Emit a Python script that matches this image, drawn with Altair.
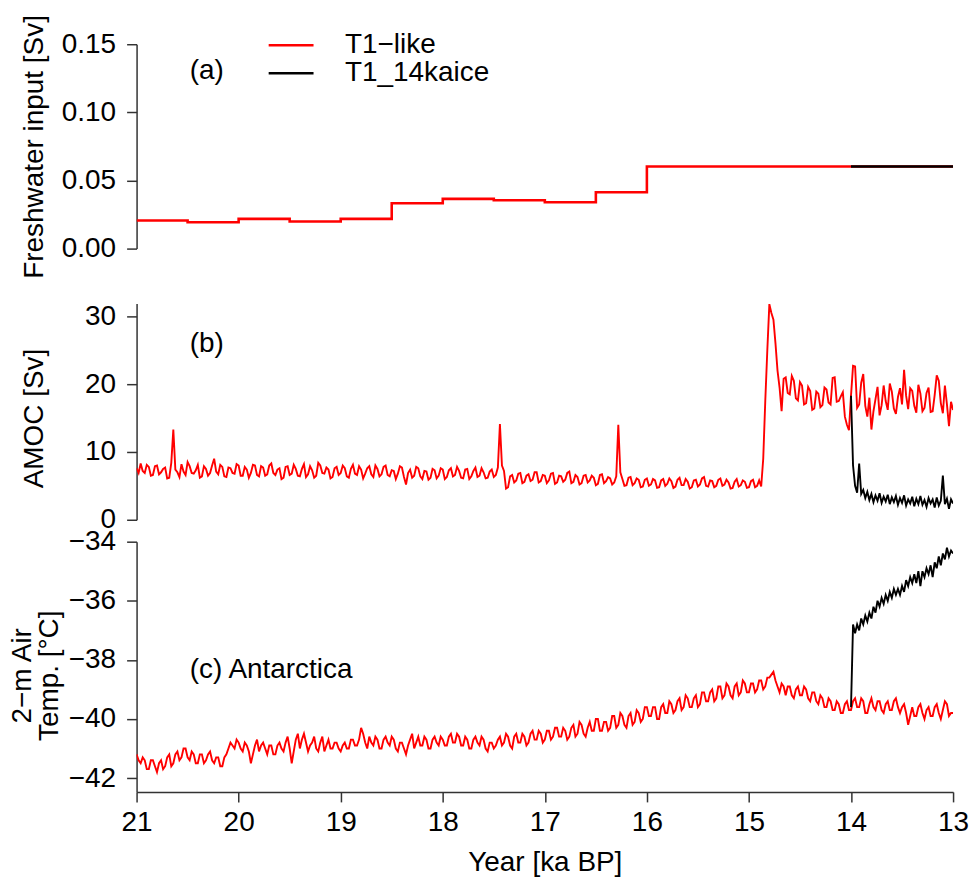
import altair as alt
import pandas as pd

S1 = "T1\u2212like"
S2 = "T1_14kaice"
RED = "#ff0000"
BLACK = "#000000"
FONT = "Liberation Sans"
W = 819

# ---------------- (a) freshwater input [Sv], step values (value holds from the year toward younger ages)
years_fw = [21.0, 20.5, 20.0, 19.5, 19.0, 18.5, 18.0, 17.5, 17.0, 16.5, 16.0, 13.0]
fw_t1 = [0.0206, 0.0193, 0.0218, 0.0199, 0.0218, 0.0333, 0.0365, 0.0355, 0.0340, 0.0414, 0.0603, 0.0603]
years_fw_ice = [14.0, 13.0]
fw_ice = [0.0603, 0.0603]

# ---------------- sampling grids (ka BP)
years_main = [round(21 - 0.02 * i, 2) for i in range(401)]
years_ice = [round(14 - 0.02 * i, 2) for i in range(51)]

# ---------------- (b) AMOC [Sv]
amoc_t1 = [
    7.6, 6.9, 8.3, 7.2, 6.9, 8.1, 7.8, 6.5, 6.6, 7.9,
    8.0, 6.7, 7.0, 7.5, 7.7, 6.1, 6.2, 8.4, 13.3, 7.4,
    7.0, 6.3, 8.2, 7.1, 6.6, 8.5, 7.9, 6.9, 6.8, 7.3,
    8.1, 6.2, 6.4, 7.9, 7.5, 6.5, 6.9, 8.0, 9.0, 7.1,
    6.7, 8.1, 7.8, 6.4, 6.3, 7.7, 7.6, 6.9, 6.8, 8.2,
    8.0, 6.5, 6.5, 7.8, 7.4, 6.2, 6.9, 8.1, 8.0, 6.6,
    6.4, 7.9, 7.7, 6.5, 6.7, 8.0, 8.3, 6.9, 6.6, 7.4,
    7.6, 6.0, 6.2, 7.8, 7.9, 6.6, 6.8, 8.1, 7.5, 6.5,
    6.4, 7.5, 8.2, 6.3, 6.7, 7.9, 7.3, 6.2, 6.5, 8.4,
    8.0, 6.9, 6.8, 7.7, 7.4, 6.1, 6.3, 7.6, 7.8, 6.6,
    6.9, 8.0, 7.6, 6.4, 6.2, 7.5, 8.1, 6.8, 6.6, 7.9,
    7.4, 6.1, 6.8, 7.6, 7.9, 6.7, 6.3, 8.0, 7.5, 6.4,
    6.7, 7.8, 8.0, 6.6, 6.4, 7.3, 7.2, 6.0, 6.8, 7.9,
    7.7, 6.3, 5.2, 6.9, 7.4, 6.2, 6.5, 7.8, 7.6, 6.4,
    6.0, 7.2, 7.1, 5.9, 6.2, 7.5, 7.3, 6.1, 6.5, 7.6,
    7.4, 6.0, 6.3, 7.3, 7.6, 6.4, 6.6, 7.8, 7.2, 6.2,
    6.1, 7.4, 7.5, 6.0, 6.4, 7.2, 7.7, 6.3, 6.5, 7.6,
    7.0, 6.1, 6.2, 7.1, 7.4, 6.3, 6.6, 7.7, 14.1, 8.0,
    7.2, 4.6, 4.8, 6.4, 6.6, 5.5, 5.8, 6.8, 6.9, 5.4,
    5.6, 6.5, 6.7, 5.7, 5.9, 7.0, 7.0, 5.5, 5.7, 6.6,
    6.5, 5.4, 5.8, 6.8, 6.9, 5.3, 5.5, 6.5, 6.4, 5.6,
    5.9, 6.9, 7.1, 5.4, 5.6, 6.6, 6.3, 5.2, 5.4, 6.5,
    6.6, 5.5, 5.8, 6.5, 6.2, 5.1, 5.3, 6.6, 6.7, 5.4,
    5.7, 6.3, 6.1, 5.2, 5.5, 6.4, 14.0, 7.0, 6.0, 5.0,
    5.1, 6.2, 6.3, 5.1, 5.4, 6.1, 5.9, 4.8, 4.9, 5.9,
    6.1, 5.0, 5.2, 6.0, 5.8, 4.7, 4.8, 5.8, 6.0, 5.0,
    5.3, 6.1, 5.7, 4.7, 4.9, 5.9, 6.2, 5.1, 5.1, 6.0,
    5.6, 4.6, 4.8, 5.8, 5.9, 4.9, 5.2, 6.1, 6.3, 5.0,
    4.9, 5.8, 5.7, 4.8, 5.0, 5.9, 6.1, 5.0, 5.2, 5.9,
    5.5, 4.6, 4.7, 5.6, 6.0, 4.9, 5.1, 5.8, 5.6, 4.7,
    4.8, 5.7, 5.9, 4.8, 5.0, 5.8, 4.9, 9.0, 17.5, 25.0,
    31.8, 30.5, 29.5, 26.0, 22.0, 19.5, 16.0, 20.8, 21.0, 18.7,
    18.5, 21.2, 20.5, 17.9, 17.6, 20.3, 19.8, 17.0, 17.2, 19.6,
    19.0, 16.2, 16.4, 18.9, 18.6, 16.6, 16.9, 19.5, 19.2, 17.3,
    17.0, 20.9, 21.0, 17.4, 17.5, 18.2, 18.8, 15.2, 14.0, 13.2,
    18.3, 22.7, 22.6, 16.5, 17.0, 20.2, 21.5, 16.8, 15.2, 18.0,
    13.3, 16.0, 17.8, 19.6, 15.4, 16.9, 19.8, 17.5, 16.2, 20.1,
    18.9, 16.4, 15.6, 18.1, 19.4, 17.0, 22.1, 18.3, 16.3, 19.4,
    19.0, 16.8, 15.8, 19.9, 18.6, 16.0, 16.5, 18.7, 19.5, 15.9,
    16.0, 18.4, 21.3, 20.5, 17.2, 15.7, 19.8, 17.0, 13.8, 17.4,
    16.2,
]
amoc_ice = [
    18.3, 8.0, 5.0, 4.0, 8.3, 3.8, 4.4, 3.2, 4.1, 2.9,
    3.8, 2.6, 3.6, 2.8, 3.9, 2.5, 3.4, 2.7, 3.7, 2.3,
    3.3, 2.6, 3.5, 2.2, 3.2, 2.5, 3.6, 2.1, 3.0, 2.4,
    3.4, 2.0, 3.1, 2.3, 3.5, 2.2, 2.9, 1.9, 3.2, 2.4,
    3.0, 1.8, 3.3, 2.1, 2.8, 6.5, 2.3, 3.1, 1.6, 3.0,
    2.4,
]

# ---------------- (c) Antarctic 2-m air temperature [degC]
temp_t1 = [
    -41.2, -41.4, -41.5, -41.3, -41.4, -41.7, -41.7, -41.4, -41.4, -41.6,
    -41.8, -41.5, -41.4, -41.7, -41.6, -41.3, -41.2, -41.6, -41.5, -41.2,
    -41.1, -41.4, -41.3, -41.0, -41.0, -41.3, -41.4, -41.1, -41.2, -41.5,
    -41.5, -41.2, -41.2, -41.5, -41.4, -41.2, -41.1, -41.4, -41.5, -41.3,
    -41.3, -41.6, -41.6, -41.3, -41.2, -41.0, -40.8, -40.9, -41.0, -40.7,
    -40.8, -41.0, -41.1, -40.8, -40.9, -41.1, -41.5, -41.2, -40.9, -40.7,
    -41.1, -40.9, -40.8, -41.0, -41.2, -40.9, -40.9, -41.2, -41.2, -40.9,
    -40.8, -41.0, -41.1, -40.8, -40.6, -41.0, -41.5, -41.1, -40.7, -40.5,
    -41.0, -40.7, -40.5, -40.8, -41.1, -40.9, -40.8, -40.6, -41.0, -41.1,
    -40.8, -40.6, -41.1, -40.9, -40.7, -41.0, -41.0, -40.8, -40.8, -41.0,
    -41.1, -40.9, -40.8, -41.0, -41.0, -40.7, -40.7, -40.9, -40.9, -40.7,
    -40.3, -40.5, -40.8, -41.0, -40.6, -40.8, -40.9, -40.6, -40.7, -41.0,
    -41.0, -40.7, -40.6, -40.8, -40.9, -40.6, -40.7, -41.0, -41.1, -40.8,
    -40.8, -41.0, -41.2, -40.9, -40.7, -40.5, -41.0, -40.8, -40.6, -40.9,
    -40.9, -40.6, -40.7, -41.0, -41.0, -40.7, -40.6, -40.8, -40.9, -40.6,
    -40.7, -40.9, -40.9, -40.6, -40.5, -40.8, -40.8, -40.5, -40.6, -40.9,
    -40.9, -40.6, -40.7, -41.0, -41.0, -40.7, -40.6, -40.8, -40.9, -40.6,
    -40.7, -41.0, -41.1, -40.8, -40.8, -41.0, -40.9, -40.7, -40.6, -40.9,
    -40.8, -40.5, -40.6, -40.9, -41.0, -40.6, -40.5, -40.8, -40.8, -40.5,
    -40.6, -40.9, -40.8, -40.5, -40.4, -40.7, -40.7, -40.4, -40.5, -40.8,
    -40.7, -40.4, -40.4, -40.7, -40.6, -40.3, -40.3, -40.6, -40.6, -40.3,
    -40.4, -40.7, -40.6, -40.3, -40.2, -40.6, -40.5, -40.1, -40.2, -40.5,
    -40.6, -40.3, -40.1, -40.4, -40.4, -40.0, -40.0, -40.4, -40.4, -40.1,
    -40.1, -40.4, -40.3, -39.9, -39.9, -40.3, -40.2, -39.8, -39.9, -40.2,
    -40.3, -39.9, -39.8, -40.2, -40.1, -39.7, -39.8, -40.1, -40.0, -39.6,
    -39.6, -39.9, -39.9, -39.6, -39.6, -40.0, -40.0, -39.6, -39.5, -39.8,
    -39.8, -39.4, -39.5, -39.8, -39.7, -39.4, -39.3, -39.7, -39.6, -39.2,
    -39.3, -39.6, -39.6, -39.3, -39.2, -39.6, -39.5, -39.1, -39.1, -39.4,
    -39.4, -39.1, -39.0, -39.4, -39.3, -38.9, -38.9, -39.3, -39.2, -38.8,
    -38.9, -39.2, -39.3, -38.9, -38.8, -39.2, -39.1, -38.7, -38.8, -39.1,
    -39.1, -38.8, -38.8, -39.1, -39.0, -38.7, -38.7, -39.0, -38.9, -38.6,
    -38.6, -38.5, -38.4, -38.7, -38.9, -39.1, -38.8, -38.9, -39.2, -38.9,
    -38.9, -39.2, -39.3, -39.0, -38.9, -39.2, -39.2, -38.9, -39.0, -39.3,
    -39.4, -39.1, -39.1, -39.4, -39.5, -39.2, -39.3, -39.6, -39.6, -39.3,
    -39.4, -39.7, -39.7, -39.4, -39.5, -39.8, -39.8, -39.5, -39.4, -39.7,
    -39.7, -39.4, -39.3, -39.6, -39.6, -39.3, -39.4, -39.8, -39.8, -39.5,
    -39.3, -39.6, -39.7, -39.4, -39.4, -39.7, -39.8, -39.5, -39.4, -39.7,
    -39.7, -39.4, -39.3, -39.6, -39.8, -39.6, -39.5, -39.8, -40.2, -39.9,
    -39.6, -39.9, -39.9, -39.6, -39.5, -39.8, -40.0, -39.7, -39.6, -39.9,
    -39.9, -39.6, -39.5, -39.8, -40.0, -39.7, -39.4, -39.5, -39.9, -39.8,
    -39.8,
]
temp_ice = [
    -39.6, -36.8, -37.1, -36.8, -37.0, -36.6, -36.8, -36.5, -36.7, -36.4,
    -36.6, -36.2, -36.4, -36.0, -36.2, -35.9, -36.1, -35.8, -36.0, -35.7,
    -35.9, -35.6, -35.8, -35.6, -35.8, -35.5, -35.7, -35.3, -35.5, -35.2,
    -35.4, -35.1, -35.4, -35.0, -35.5, -35.0, -35.2, -34.9, -35.1, -34.8,
    -35.2, -34.7, -34.9, -34.5, -34.8, -34.4, -34.6, -34.2, -34.5, -34.3,
    -34.4,
]

x_ticks = [13, 14, 15, 16, 17, 18, 19, 20, 21]


def long_df(y1, v1, y2, v2):
    return pd.DataFrame({
        "year": list(y1) + list(y2),
        "value": list(v1) + list(v2),
        "series": [S1] * len(y1) + [S2] * len(y2),
    })


fw_df = long_df(years_fw, fw_t1, years_fw_ice, fw_ice)
amoc_df = long_df(years_main, amoc_t1, years_ice, amoc_ice)
temp_df = long_df(years_main, temp_t1, years_ice, temp_ice)

xscale = alt.Scale(domain=[13, 21], reverse=True, nice=False, zero=False)
color_scale = alt.Scale(domain=[S1, S2], range=[RED, BLACK])
path_order = alt.Order("year:Q", sort="descending")


def label_chart(x, y, txt, yscale, xaxis=None, yaxis=None):
    return alt.Chart(pd.DataFrame({"year": [x], "value": [y], "label": [txt]})).mark_text(
        align="left", baseline="middle", fontSize=28, font=FONT, color="black"
    ).encode(
        x=alt.X("year:Q", scale=xscale, axis=xaxis),
        y=alt.Y("value:Q", scale=yscale, axis=yaxis),
        text="label:N",
    )


# ---------- panel (a)
ya_scale = alt.Scale(domain=[0, 0.15], nice=False, zero=False)
ya_axis = alt.Axis(values=[0, 0.05, 0.10, 0.15], format=".2f",
                   title="Freshwater input [Sv]", titleAngle=270,
                   titleBaseline="middle", titleAlign="center", titleX=-102)
base_a = alt.Chart(fw_df).encode(
    x=alt.X("year:Q", scale=xscale, axis=None),
    y=alt.Y("value:Q", scale=ya_scale, axis=ya_axis),
    order=path_order,
    color=alt.Color("series:N", scale=color_scale, sort=[S1, S2],
                    legend=alt.Legend(orient="none", legendX=141, legendY=-13, title=None,
                                      symbolType="M-1.8,0H1.8", symbolSize=625, symbolStrokeWidth=2.5,
                                      labelFontSize=28, labelFont=FONT, labelColor="black",
                                      labelOffset=40, rowPadding=-2, padding=0, labelLimit=400)),
)
a_red = base_a.transform_filter(alt.datum.series == S1).mark_line(interpolate="step-after", strokeWidth=2.6, clip=True)
a_blk = base_a.transform_filter(alt.datum.series == S2).mark_line(interpolate="step-after", strokeWidth=2.6, clip=True)
panel_a = alt.layer(a_red, a_blk, label_chart(20.48, 0.130, "(a)", ya_scale, None, ya_axis)).properties(width=W, height=205)

# ---------- spacer
spacer = alt.Chart(pd.DataFrame({"year": [13], "value": [0]})).mark_point(opacity=0).encode(
    x=alt.X("year:Q", axis=None), y=alt.Y("value:Q", axis=None)
).properties(width=W, height=11)

# ---------- panel (b)
yb_scale = alt.Scale(domain=[0, 31.9], nice=False, zero=False)
yb_axis = alt.Axis(values=[0, 10, 20, 30], format="d",
                   title="AMOC [Sv]", titleAngle=270,
                   titleBaseline="middle", titleAlign="center", titleX=-102, titleY=115)
base_b = alt.Chart(amoc_df).encode(
    x=alt.X("year:Q", scale=xscale, axis=None),
    y=alt.Y("value:Q", scale=yb_scale, axis=yb_axis),
    order=path_order,
)
b_red = base_b.transform_filter(alt.datum.series == S1).mark_line(color=RED, strokeWidth=1.9, clip=True)
b_blk = base_b.transform_filter(alt.datum.series == S2).mark_line(color=BLACK, strokeWidth=1.9, clip=True)
panel_b = alt.layer(b_red, b_blk, label_chart(20.48, 25.9, "(b)", yb_scale, None, yb_axis)).properties(width=W, height=217)

# ---------- panel (c)
yc_scale = alt.Scale(domain=[-42.47, -34], nice=False, zero=False)
xc_axis = alt.Axis(values=x_ticks, format="d", title="Year [ka BP]", titlePadding=12,
                   labelPadding=7, labelFlush=False)
yc_axis = alt.Axis(values=[-42, -40, -38, -36, -34], format="d",
                   title=["2\u2212m Air", "Temp. [\u00b0C]"], titleAngle=270,
                   titleBaseline="middle", titleAlign="center", titleX=-114, titleY=134,
                   titleLineHeight=27)
base_c = alt.Chart(temp_df).encode(
    x=alt.X("year:Q", scale=xscale, axis=xc_axis),
    y=alt.Y("value:Q", scale=yc_scale, axis=yc_axis),
    order=path_order,
)
c_red = base_c.transform_filter(alt.datum.series == S1).mark_line(color=RED, strokeWidth=1.9, clip=True)
c_blk = base_c.transform_filter(alt.datum.series == S2).mark_line(color=BLACK, strokeWidth=1.9, clip=True)
panel_c = alt.layer(c_red, c_blk, label_chart(20.48, -38.35, "(c) Antarctica", yc_scale, xc_axis, yc_axis)).properties(width=W, height=251)

chart = alt.vconcat(panel_a, spacer, panel_b, panel_c, spacing=22, bounds="flush").properties(
    padding={"left": 9, "top": 13, "right": 5, "bottom": 5}
).configure(font=FONT).configure_view(stroke=None).configure_axis(
    labelFont=FONT, labelFontSize=28, labelColor="black",
    titleFont=FONT, titleFontSize=28, titleFontWeight="normal", titleColor="black",
    domainColor="#333333", tickColor="#333333", domainWidth=1.5, tickWidth=1.5,
    tickSize=10, grid=False,
).configure_axisY(labelPadding=11)

chart.save("out.html", embed_options={"renderer": "svg", "actions": False})
